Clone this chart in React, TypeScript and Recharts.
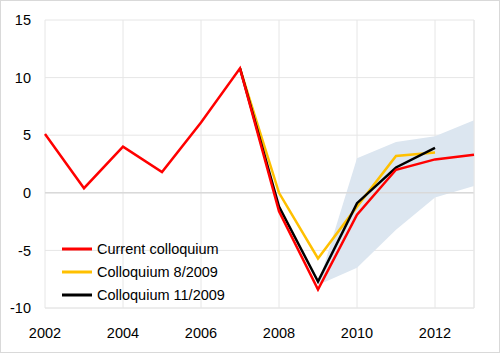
import React from 'react'
import { ComposedChart, Line, Area, XAxis, YAxis, CartesianGrid, ReferenceLine } from 'recharts'

const years = [2002, 2003, 2004, 2005, 2006, 2007, 2008, 2009, 2010, 2011, 2012, 2013]
const current = [5.1, 0.4, 4.0, 1.8, 6.1, 10.8, -1.6, -8.4, -1.9, 2.0, 2.9, 3.3]
const coll082009 = [null, null, null, null, null, 10.8, 0.0, -5.7, -1.2, 3.2, 3.5, null]
const coll112009 = [null, null, null, null, null, 10.8, -1.2, -7.7, -0.9, 2.2, 3.9, null]
const bandLow = [null, null, null, null, null, null, null, -8.0, -6.5, -3.2, -0.4, 0.6]
const bandHigh = [null, null, null, null, null, null, null, -8.0, 3.0, 4.4, 4.9, 6.3]

const xTicks = [2002, 2004, 2006, 2008, 2010, 2012]
const yTicks = [-10, -5, 0, 5, 10, 15]

const legendItems = [
  { label: 'Current colloquium', color: '#ff0000' },
  { label: 'Colloquium 8/2009', color: '#ffc000' },
  { label: 'Colloquium 11/2009', color: '#000000' },
]

const data = years.map((year, i) => ({
  year,
  current: current[i],
  aug: coll082009[i],
  nov: coll112009[i],
  band: bandLow[i] === null ? null : [bandLow[i], bandHigh[i]],
}))

const font = 'Liberation Sans, Arial, sans-serif'

function LegendBox() {
  return (
    <div style={{ position: 'absolute', left: 61, top: 236, fontFamily: font, fontSize: 14.5, color: '#000' }}>
      {legendItems.map((item) => (
        <div key={item.label} style={{ display: 'flex', alignItems: 'center', height: 23 }}>
          <svg width={30} height={4} style={{ marginRight: 5 }}>
            <line x1={0} y1={2} x2={30} y2={2} stroke={item.color} strokeWidth={3} />
          </svg>
          <span>{item.label}</span>
        </div>
      ))}
    </div>
  )
}

export default function App() {
  return (
    <div
      style={{
        position: 'absolute',
        left: 0,
        top: 0,
        width: 500,
        height: 353,
        border: '1px solid #d9d9d9',
        boxSizing: 'border-box',
        background: '#fff',
      }}
    >
      <div style={{ position: 'absolute', left: -1, top: -1 }}>
        <ComposedChart
          width={500}
          height={353}
          data={data}
          margin={{ top: 20, right: 26, bottom: 15, left: 0 }}
        >
          <CartesianGrid stroke="#e6e6e6" strokeWidth={1} />
          <XAxis
            dataKey="year"
            type="number"
            domain={[2002, 2013]}
            ticks={xTicks}
            axisLine={{ stroke: '#e6e6e6' }}
            tickLine={false}
            tickMargin={14}
            height={30}
            tick={{ fill: '#000', fontSize: 14.5, fontFamily: font }}
          />
          <YAxis
            type="number"
            domain={[-10, 15]}
            ticks={yTicks}
            axisLine={false}
            tickLine={false}
            tickMargin={8}
            width={45}
            tick={{ fill: '#000', fontSize: 14.5, fontFamily: font }}
          />
          <ReferenceLine y={0} stroke="#d9d9d9" strokeWidth={1.5} />
          <ReferenceLine x={2013} stroke="#e6e6e6" />
          <Area
            dataKey="band"
            stroke="none"
            fill="#dce6f0"
            fillOpacity={1}
            isAnimationActive={false}
          />
          <Line dataKey="aug" stroke="#ffc000" strokeWidth={2.5} dot={false} isAnimationActive={false} />
          <Line dataKey="nov" stroke="#000000" strokeWidth={2.5} dot={false} isAnimationActive={false} />
          <Line dataKey="current" stroke="#ff0000" strokeWidth={2.5} dot={false} isAnimationActive={false} />
        </ComposedChart>
      </div>
      <LegendBox />
    </div>
  )
}
